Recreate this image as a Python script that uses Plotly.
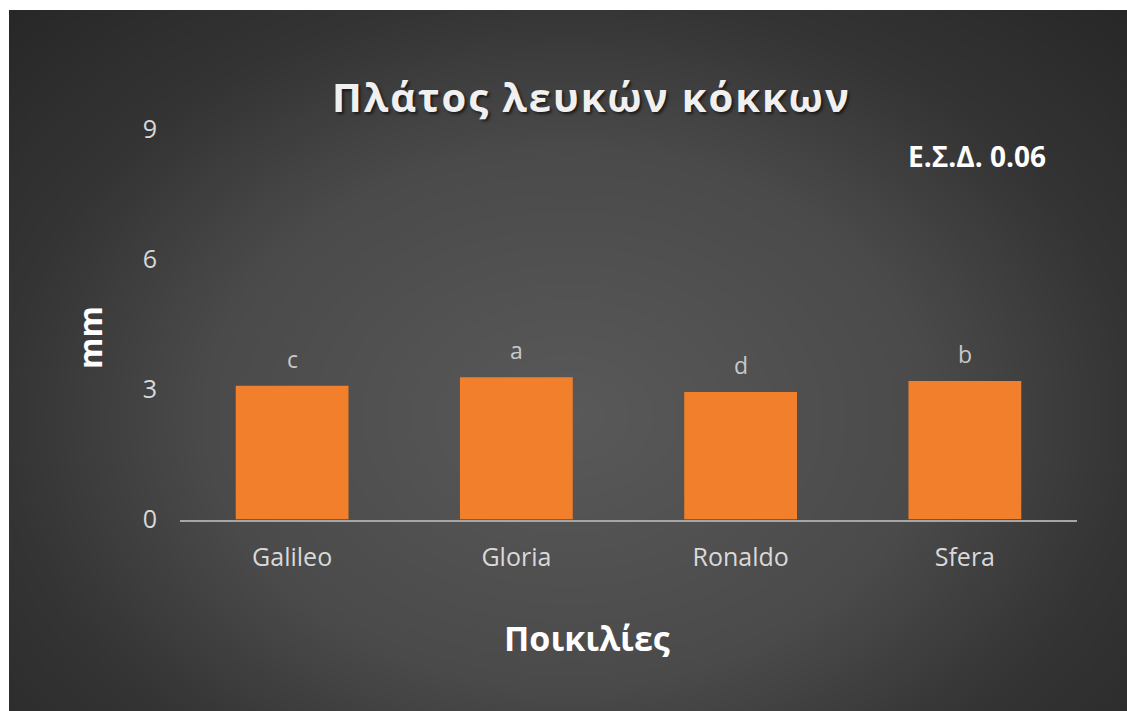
import numpy as np
import plotly.graph_objects as go

# Data
varieties = ["Galileo", "Gloria", "Ronaldo", "Sfera"]
width_mm = [3.08, 3.28, 2.94, 3.19]
groups = ["c", "a", "d", "b"]
y_ticks = [0, 3, 6, 9]
lsd_text = "Ε.Σ.Δ. 0.06"
chart_title = "Πλάτος λευκών κόκκων"

W, H = 1127, 711
FONT = "Open Sans"

# Radial background shading (lighter centre, darker edges)
gx = np.linspace(-0.02, 1.02, 240)
gy = np.linspace(-0.02, 1.02, 150)
GX, GY = np.meshgrid(gx, gy)
dist = np.sqrt(((GX - 0.5) / 0.72) ** 2 + ((GY - 0.42) / 0.85) ** 2)
bg_scale = [[0.0, "#595959"], [0.45, "#4a4a4a"], [0.7, "#343434"], [1.0, "#262626"]]

fig = go.Figure()
fig.add_trace(go.Heatmap(
    x=gx, y=gy, z=np.clip(dist, 0, 1), zmin=0, zmax=1,
    colorscale=bg_scale, showscale=False, zsmooth="best", hoverinfo="skip",
    xaxis="x", yaxis="y",
))

fig.add_trace(go.Bar(
    x=varieties, y=width_mm, width=0.503,
    marker=dict(color="#F27F2C", line=dict(width=0)),
    xaxis="x2", yaxis="y2", hoverinfo="x+y",
))

annotations = []
for v, val, g in zip(varieties, width_mm, groups):
    annotations.append(dict(
        x=v, y=val, xref="x2", yref="y2", text=g, showarrow=False,
        yanchor="bottom", yshift=9,
        font=dict(family=FONT, size=23, color="#c9c9c9"),
    ))

# spaced-out title lettering (small hair spaces between glyphs)
gap = "<span style='font-size:19px'>\u200a</span>"
spaced_title = gap.join(chart_title)

annotations += [
    dict(x=590 / W, y=1 - 97 / H, xref="paper", yref="paper",
         text=spaced_title, showarrow=False,
         xanchor="center", yanchor="middle",
         font=dict(family=FONT, size=40, color="#f0f0f0", weight="bold",
                   shadow="2px 2px 3px rgba(0,0,0,0.6)")),
    dict(x=977 / W, y=1 - 156 / H, xref="paper", yref="paper",
         text=lsd_text, showarrow=False, xanchor="center", yanchor="middle",
         font=dict(family=FONT, size=28, color="#ffffff", weight="bold")),
    dict(x=587 / W, y=1 - 638 / H, xref="paper", yref="paper",
         text="Ποικιλίες", showarrow=False, xanchor="center", yanchor="middle",
         font=dict(family=FONT, size=34, color="#ffffff", weight="bold")),
    dict(x=89 / W, y=1 - 338 / H, xref="paper", yref="paper",
         text="mm", textangle=-90, showarrow=False, xanchor="center", yanchor="middle",
         font=dict(family=FONT, size=32, color="#ffffff", weight="bold")),
]

fig.update_layout(
    width=W, height=H,
    margin=dict(l=0, r=0, t=0, b=0, pad=0, autoexpand=False),
    paper_bgcolor="#ffffff",
    plot_bgcolor="rgba(0,0,0,0)",
    showlegend=False,
    annotations=annotations,
    xaxis=dict(domain=[9 / W, 1], range=[0, 1], visible=False, fixedrange=True),
    yaxis=dict(domain=[0, 1 - 10 / H], range=[0, 1], visible=False, fixedrange=True),
    xaxis2=dict(
        domain=[180 / W, 1077 / W], anchor="y2", range=[-0.5, 3.5],
        showline=True, linecolor="#a6a6a6", linewidth=2,
        showgrid=False, zeroline=False, ticks="",
        tickfont=dict(family=FONT, size=25, color="#d9d9d9"),
        ticklabelstandoff=14,
    ),
    yaxis2=dict(
        domain=[(H - 519.5) / H, (H - 128.9) / H], anchor="x2", range=[0, 9],
        tickvals=y_ticks, showgrid=False, zeroline=False, showline=False, ticks="",
        tickfont=dict(family=FONT, size=25, color="#d9d9d9"),
        ticklabelstandoff=22,
    ),
)

fig.write_html("out.html")
